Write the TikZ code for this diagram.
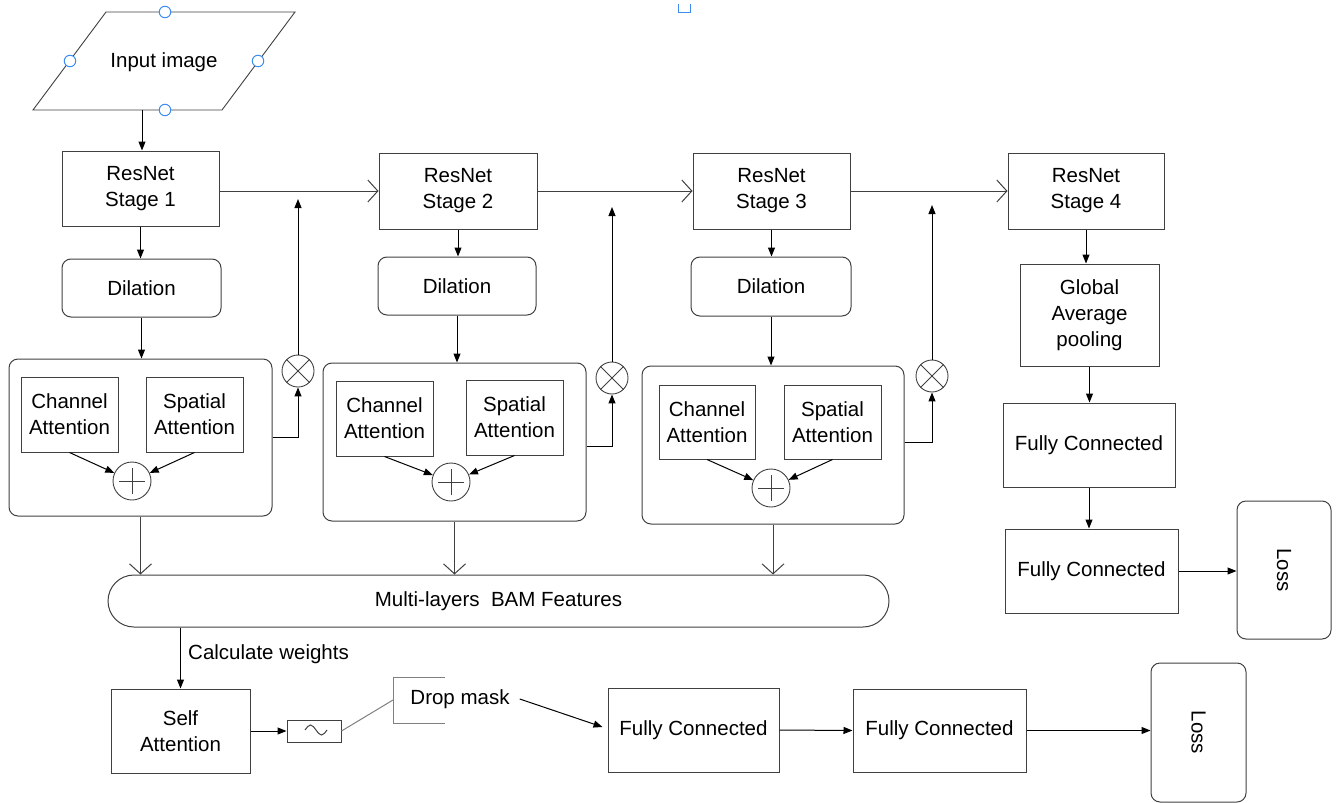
\documentclass[tikz,border=0pt]{standalone}
\usepackage{fontspec}
\setmainfont{Liberation Sans}
\usetikzlibrary{arrows.meta}
\definecolor{bline}{HTML}{404040}
\definecolor{hblue}{HTML}{3C8DF0}
\tikzset{
  base/.style={font=\fontsize{20.5}{26}\selectfont, align=center, text=black, inner sep=0pt},
  box/.style={base, draw=bline, line width=1pt},
  rbox/.style={box, rounded corners=9pt},
  circ/.style={draw=bline, line width=0.9pt, circle, minimum size=38pt, inner sep=0pt},
  ocirc/.style={draw=bline, line width=0.9pt, circle, minimum size=32pt, inner sep=0pt},
  arr/.style={draw=black, line width=1pt, -{Triangle[length=9pt,width=7pt]}},
  oarr/.style={draw=bline, line width=1pt, -{Straight Barb[length=10pt,width=22pt]}},
  plain/.style={draw=bline, line width=0.9pt},
  handle/.style={draw=hblue, fill=white, line width=1pt, circle, minimum size=11.5pt, inner sep=0pt},
}
\begin{document}
\begin{tikzpicture}[x=1pt,y=-1pt]
\useasboundingbox (0,0) rectangle (1336,803);

% input parallelogram
\draw[plain] (106,12) -- (295,12) -- (222,110) -- (33,110) -- cycle;
\node[base] (input) at (164,62) {Input image};
\coordinate (inbot) at (142,110);
\node[handle] (h1) at (165,12) {};
\node[handle] (h2) at (165,110) {};
\node[handle] (h3) at (70,61) {};
\node[handle] (h4) at (258,61) {};
\draw[draw=hblue, line width=1pt] (678,4) -- (678,12) -- (690,12) -- (690,4);

% ResNet stages
\node[box, minimum width=157pt, minimum height=75pt] (s1) at (140.5,188.5) {ResNet\\Stage 1};
\node[box, minimum width=158pt, minimum height=76pt] (s2) at (458,191) {ResNet\\Stage 2};
\node[box, minimum width=157pt, minimum height=76pt] (s3) at (771.5,191) {ResNet\\Stage 3};
\node[box, minimum width=156pt, minimum height=76pt] (s4) at (1086,191) {ResNet\\Stage 4};

% Dilation
\node[rbox, minimum width=159pt, minimum height=58pt] (d1) at (141.5,288) {Dilation};
\node[rbox, minimum width=158pt, minimum height=58pt] (d2) at (457,286) {Dilation};
\node[rbox, minimum width=160pt, minimum height=59pt] (d3) at (771,286.5) {Dilation};

% BAM blocks
\node[rbox, minimum width=263pt, minimum height=157pt] (b1) at (140.5,437.5) {};
\node[rbox, minimum width=263pt, minimum height=158pt] (b2) at (454.5,442) {};
\node[rbox, minimum width=262pt, minimum height=158pt] (b3) at (773,445) {};

\node[box, minimum width=97pt, minimum height=75pt] (c1) at (69.5,414.5) {Channel\\Attention};
\node[box, minimum width=97pt, minimum height=75pt] (sp1) at (194.5,414.5) {Spatial\\Attention};
\node[box, minimum width=97pt, minimum height=75pt] (c2) at (384.5,418.5) {Channel\\Attention};
\node[box, minimum width=97pt, minimum height=75pt] (sp2) at (514.5,417.5) {Spatial\\Attention};
\node[box, minimum width=96pt, minimum height=74pt] (c3) at (707,422) {Channel\\Attention};
\node[box, minimum width=97pt, minimum height=74pt] (sp3) at (832.5,422) {Spatial\\Attention};

\node[circ] (p1) at (132,481) {};
\node[circ] (p2) at (451,482) {};
\node[circ] (p3) at (771,488) {};
\foreach \p in {p1,p2,p3}{
  \draw[plain] ([xshift=-13pt]\p.center) -- ([xshift=13pt]\p.center);
  \draw[plain] ([yshift=-13pt]\p.center) -- ([yshift=13pt]\p.center);
}

\node[ocirc] (o1) at (298,371) {};
\node[ocirc] (o2) at (612,378) {};
\node[ocirc] (o3) at (932,376) {};
\foreach \o in {o1,o2,o3}{
  \draw[plain] (\o.45) -- (\o.225);
  \draw[plain] (\o.135) -- (\o.315);
}

\coordinate (f1) at (298,199);
\coordinate (f2) at (612,207);
\coordinate (f3) at (932,205);

% Multi-layer features
\node[box, rounded corners=26pt, minimum width=781pt, minimum height=52pt] (multi) at (498.5,601) {Multi-layers\ \ BAM Features};

% bottom row
\node[box, minimum width=139pt, minimum height=84pt] (sa) at (180.5,731) {Self\\Attention};
\node[box, minimum width=54pt, minimum height=22pt] (tilde) at (314,731) {};
\draw[plain, line width=1pt] (305,730) sin (310.5,725) cos (316,730) sin (321.5,735) cos (327,730);
\node[base] (dm) at (460,699) {Drop mask};
\draw[draw=gray, line width=1pt] (445,677) -- (393,677) -- (393,723) -- (445,723);
\coordinate (dmL) at (393,700);
\node[box, minimum width=171pt, minimum height=84pt] (fc1) at (693.5,730) {Fully Connected};
\node[box, minimum width=173pt, minimum height=83pt] (fc2) at (939.5,730.5) {Fully Connected};
\node[rbox, minimum width=95pt, minimum height=139pt] (loss1) at (1198.5,732.5) {\rotatebox{-90}{Loss}};

% right column
\node[box, minimum width=139pt, minimum height=102pt] (gap) at (1089.5,315) {Global\\Average\\pooling};
\node[box, minimum width=172pt, minimum height=84pt] (fcr1) at (1089,445) {Fully Connected};
\node[box, minimum width=173pt, minimum height=84pt] (fcr2) at (1091.5,571) {Fully Connected};
\node[rbox, minimum width=94pt, minimum height=138pt] (loss2) at (1284,570) {\rotatebox{-90}{Loss}};

% connectors
\draw[arr] (inbot) -- (inbot |- s1.north);
\draw[oarr] (s1.east |- s2.west) -- (s2.west);
\draw[oarr] (s2.east) -- (s3.west);
\draw[oarr] (s3.east) -- (s4.west);

\draw[arr] (s1.south) -- (s1.south |- d1.north);
\draw[arr] (s2.south) -- (s2.south |- d2.north);
\draw[arr] (s3.south) -- (s3.south |- d3.north);
\draw[arr] (d1.south) -- (d1.south |- b1.north);
\draw[arr] (d2.south) -- (d2.south |- b2.north);
\draw[arr] (d3.south) -- (d3.south |- b3.north);

\draw[arr] (c1.south) -- (p1);
\draw[arr] (sp1.south) -- (p1);
\draw[arr] (c2.south) -- (p2);
\draw[arr] (sp2.south) -- (p2);
\draw[arr] (c3.south) -- (p3);
\draw[arr] (sp3.south) -- (p3);

\draw[arr] (b1.east) -| (o1.south);
\draw[arr] ([yshift=-4pt]b2.east) -| (o2.south);
\draw[arr] ([yshift=3pt]b3.east) -| (o3.south);
\draw[arr] (o1.north) -- (f1);
\draw[arr] (o2.north) -- (f2);
\draw[arr] (o3.north) -- (f3);

\draw[oarr] (b1.south) -- (b1.south |- multi.north);
\draw[oarr] (b2.south) -- (b2.south |- multi.north);
\draw[oarr] (b3.south) -- (b3.south |- multi.north);

\draw[arr] (sa.north |- multi.south) -- (sa.north);
\node[base, anchor=west] (cw) at (188,654) {Calculate weights};
\draw[arr] (sa.east) -- (tilde.west);
\draw[draw=gray, line width=1pt] (tilde.east) -- (dmL);
\draw[arr] ([xshift=10pt]dm.east) -- ([xshift=-5pt,yshift=3pt]fc1.west);
\draw[arr] (fc1.east) -- (fc2.west);
\draw[arr] (fc2.east) -- (fc2.east -| loss1.west);

\draw[arr] (s4.south) -- (s4.south |- gap.north);
\draw[arr] (gap.south) -- (gap.south |- fcr1.north);
\draw[arr] (fcr1.south) -- (fcr1.south |- fcr2.north);
\draw[arr] (fcr2.east) -- (fcr2.east -| loss2.west);
\end{tikzpicture}
\end{document}
